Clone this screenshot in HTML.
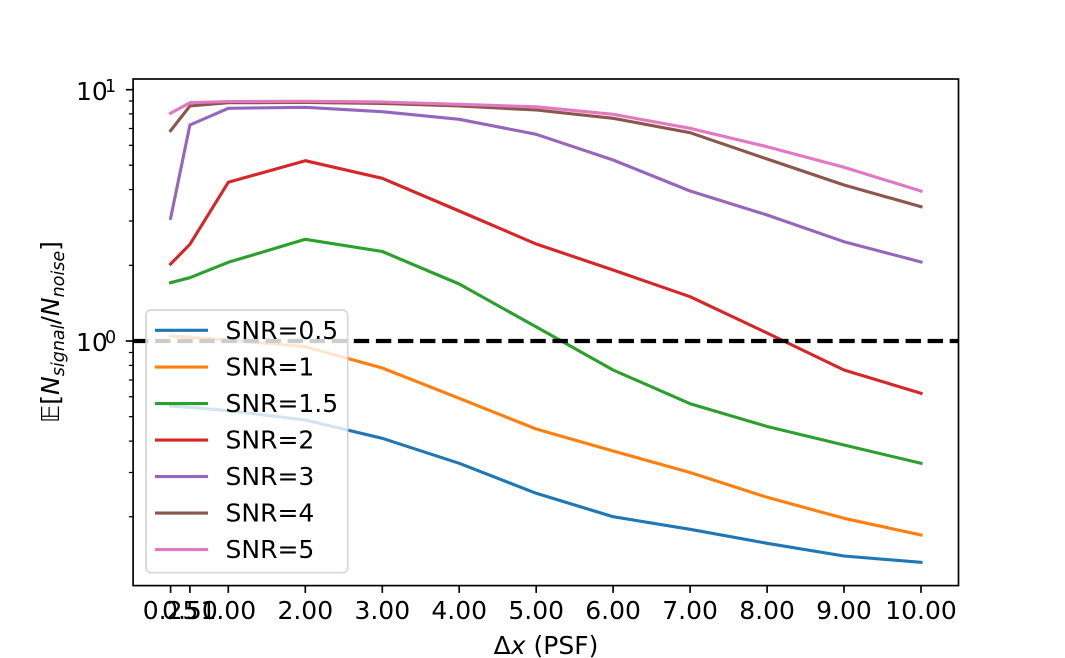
<!DOCTYPE html>
<html>
<head>
<meta charset="utf-8">
<style>
html,body{margin:0;padding:0;background:#fff;}
svg{display:block;}
text{font-family:"DejaVu Sans","Liberation Sans",sans-serif;fill:#000;}
</style>
</head>
<body>
<svg width="1065" height="658" viewBox="0 0 1065 658" xmlns="http://www.w3.org/2000/svg">
<rect x="0" y="0" width="1065" height="658" fill="#fff"/>

<!-- series -->
<g fill="none" stroke-width="3.125" stroke-linejoin="round" stroke-linecap="square">
<polyline stroke="#1f77b4" points="170.6,406 189.9,407.3 228.3,410.7 305.3,420 382.3,438.3 459.2,463.3 536.2,493.3 613.1,516.7 690.1,529.3 767.1,543.3 844,556 921,562.3"/>
<polyline stroke="#ff7f0e" points="170.6,336 189.9,337.3 228.3,340 305.3,346.7 382.3,368 459.2,398.3 536.2,429 613.1,451 690.1,472.5 767.1,497.3 844,518.3 921,535"/>
<polyline stroke="#2ca02c" points="170.6,282.7 189.9,277.7 228.3,262.3 305.3,239.3 382.3,251.5 459.2,284 536.2,326.9 613.1,370 690.1,403.7 767.1,426.5 844,445 921,463.3"/>
<polyline stroke="#d62728" points="170.6,264 189.9,244.3 228.3,182.3 305.3,160.7 382.3,178.3 459.2,211 536.2,244 613.1,270 690.1,296.7 767.1,333 844,370 921,393.3"/>
<polyline stroke="#9467bd" points="170.6,218.3 189.9,125 228.3,108.3 305.3,107.3 382.3,111.7 459.2,119.3 536.2,134.3 613.1,160 690.1,191 767.1,215 844,241.7 921,262"/>
<polyline stroke="#8c564b" points="170.6,130.7 189.9,106 228.3,102.7 305.3,102.5 382.3,103.5 459.2,106 536.2,110 613.1,118.3 690.1,132.7 767.1,159 844,185 921,206.7"/>
<polyline stroke="#e377c2" points="170.6,113.3 189.9,102.7 228.3,101.5 305.3,101.3 382.3,102 459.2,104.3 536.2,106.8 613.1,114.3 690.1,128.3 767.1,146.7 844,167.3 921,191"/>
</g>

<!-- dashed line at y=1 -->
<line x1="133.1" y1="341" x2="958.5" y2="341" stroke="#000" stroke-width="4.17" stroke-dasharray="15.4 6.67"/>

<!-- legend -->
<rect x="146" y="310" width="201.7" height="262.7" rx="5" ry="5" fill="#fff" fill-opacity="0.8" stroke="#cccccc" stroke-opacity="0.8" stroke-width="1.67"/>
<g stroke-width="3.125" stroke-linecap="butt">
<line x1="155" y1="330.3" x2="208" y2="330.3" stroke="#1f77b4"/>
<line x1="155" y1="367.0" x2="208" y2="367.0" stroke="#ff7f0e"/>
<line x1="155" y1="403.5" x2="208" y2="403.5" stroke="#2ca02c"/>
<line x1="155" y1="440.0" x2="208" y2="440.0" stroke="#d62728"/>
<line x1="155" y1="476.5" x2="208" y2="476.5" stroke="#9467bd"/>
<line x1="155" y1="513.0" x2="208" y2="513.0" stroke="#8c564b"/>
<line x1="155" y1="549.5" x2="208" y2="549.5" stroke="#e377c2"/>
</g>
<g font-size="25">
<text x="225.5" y="339">SNR=0.5</text>
<text x="225.5" y="375.7">SNR=1</text>
<text x="225.5" y="412.2">SNR=1.5</text>
<text x="225.5" y="448.7">SNR=2</text>
<text x="225.5" y="485.2">SNR=3</text>
<text x="225.5" y="521.7">SNR=4</text>
<text x="225.5" y="558.2">SNR=5</text>
</g>

<!-- spines -->
<rect x="133.1" y="79" width="825.4" height="506.6" fill="none" stroke="#000" stroke-width="1.67"/>

<!-- x ticks -->
<g stroke="#000" stroke-width="1.67">
<line x1="170.6" y1="585.6" x2="170.6" y2="592.9"/>
<line x1="189.9" y1="585.6" x2="189.9" y2="592.9"/>
<line x1="228.3" y1="585.6" x2="228.3" y2="592.9"/>
<line x1="305.3" y1="585.6" x2="305.3" y2="592.9"/>
<line x1="382.3" y1="585.6" x2="382.3" y2="592.9"/>
<line x1="459.2" y1="585.6" x2="459.2" y2="592.9"/>
<line x1="536.2" y1="585.6" x2="536.2" y2="592.9"/>
<line x1="613.1" y1="585.6" x2="613.1" y2="592.9"/>
<line x1="690.1" y1="585.6" x2="690.1" y2="592.9"/>
<line x1="767.1" y1="585.6" x2="767.1" y2="592.9"/>
<line x1="844" y1="585.6" x2="844" y2="592.9"/>
<line x1="921" y1="585.6" x2="921" y2="592.9"/>
</g>
<g font-size="25" text-anchor="middle">
<text x="170.6" y="619">0.25</text>
<text x="189.9" y="619">0.50</text>
<text x="228.3" y="619">1.00</text>
<text x="305.3" y="619">2.00</text>
<text x="382.3" y="619">3.00</text>
<text x="459.2" y="619">4.00</text>
<text x="536.2" y="619">5.00</text>
<text x="613.1" y="619">6.00</text>
<text x="690.1" y="619">7.00</text>
<text x="767.1" y="619">8.00</text>
<text x="844" y="619">9.00</text>
<text x="921" y="619">10.00</text>
</g>
<text x="546" y="654" font-size="25" text-anchor="middle">Δ<tspan font-style="italic">x</tspan> (PSF)</text>

<!-- y ticks -->
<g stroke="#000" stroke-width="1.67">
<line x1="125.8" y1="89.7" x2="133.1" y2="89.7"/>
<line x1="125.8" y1="341" x2="133.1" y2="341"/>
</g>
<g stroke="#000" stroke-width="1.25">
<line x1="128.9" y1="265.3" x2="133.1" y2="265.3"/>
<line x1="128.9" y1="221" x2="133.1" y2="221"/>
<line x1="128.9" y1="189.6" x2="133.1" y2="189.6"/>
<line x1="128.9" y1="165.2" x2="133.1" y2="165.2"/>
<line x1="128.9" y1="145.3" x2="133.1" y2="145.3"/>
<line x1="128.9" y1="128.5" x2="133.1" y2="128.5"/>
<line x1="128.9" y1="113.9" x2="133.1" y2="113.9"/>
<line x1="128.9" y1="101" x2="133.1" y2="101"/>
<line x1="128.9" y1="352.5" x2="133.1" y2="352.5"/>
<line x1="128.9" y1="365.4" x2="133.1" y2="365.4"/>
<line x1="128.9" y1="380" x2="133.1" y2="380"/>
<line x1="128.9" y1="396.8" x2="133.1" y2="396.8"/>
<line x1="128.9" y1="416.7" x2="133.1" y2="416.7"/>
<line x1="128.9" y1="441.1" x2="133.1" y2="441.1"/>
<line x1="128.9" y1="472.5" x2="133.1" y2="472.5"/>
<line x1="128.9" y1="516.8" x2="133.1" y2="516.8"/>
</g>
<g font-size="25">
<text x="76" y="100">10</text>
<text x="105" y="92" font-size="17.5">1</text>
<text x="76" y="351">10</text>
<text x="105" y="343" font-size="17.5">0</text>
</g>

<!-- y label -->
<text transform="translate(59,332) rotate(-90)" text-anchor="middle" font-size="25">𝔼[<tspan font-style="italic">N</tspan><tspan font-style="italic" font-size="17.5" dy="5">signal</tspan><tspan dy="-5">/</tspan><tspan font-style="italic">N</tspan><tspan font-style="italic" font-size="17.5" dy="5">noise</tspan><tspan dy="-5">]</tspan></text>
</svg>
</body>
</html>
